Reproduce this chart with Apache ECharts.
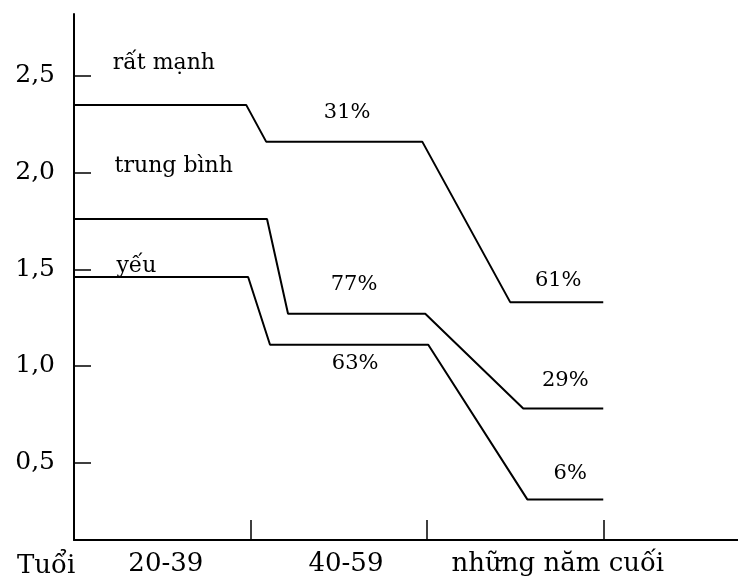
<!DOCTYPE html>
<html>
<head>
<meta charset="utf-8">
<script src="https://cdn.jsdelivr.net/npm/echarts@6/dist/echarts.min.js"></script>
<style>
html,body{margin:0;padding:0;background:#fff;}
#chart{width:738px;height:583px;}
</style>
</head>
<body>
<div id="chart"></div>
<script>
// ---- data ----
var ageGroups = ['20-39', '40-59', 'những năm cuối'];
var ageLabelAt = [0.52, 1.54, 2.74];
var ageTicks = [1, 2, 3];
var yTicks = [0.5, 1.0, 1.5, 2.0, 2.5];

var strongX = [0, 0.975, 1.088, 1.972, 2.470, 2.997];
var strongY = [2.35, 2.35, 2.16, 2.16, 1.33, 1.33];
var mediumX = [0, 1.093, 1.212, 1.989, 2.544, 2.997];
var mediumY = [1.76, 1.76, 1.27, 1.27, 0.78, 0.78];
var weakX = [0, 0.986, 1.110, 2.006, 2.567, 2.997];
var weakY = [1.46, 1.46, 1.11, 1.11, 0.31, 0.31];

var levelNames = ['rất mạnh', 'trung bình', 'yếu'];
var levelNameX = [0.22, 0.23, 0.24];
var levelNameY = [2.566, 2.034, 1.517];

var pctTexts = ['31%', '77%', '63%', '61%', '29%', '6%'];
var pctX = [1.547, 1.586, 1.592, 2.742, 2.782, 2.810];
var pctY = [2.308, 1.419, 1.010, 1.444, 0.927, 0.446];

// ---- chart ----
function zip(xs, ys) { return xs.map(function (x, i) { return [x, ys[i]]; }); }
var FONT = 'DejaVu Serif';
var lineStyle = { color: '#000', width: 2 };

function lineSeries(xs, ys) {
  return {
    type: 'line', data: zip(xs, ys), showSymbol: false, symbol: 'none',
    lineStyle: lineStyle, silent: true, animation: false
  };
}

function textSeries(names, xs, ys, position, size) {
  return {
    type: 'scatter', symbolSize: 0, silent: true, animation: false,
    itemStyle: { opacity: 1, color: '#000' },
    data: names.map(function (t, i) { return { value: [xs[i], ys[i]], name: t }; }),
    label: {
      show: true, position: position, distance: 0, opacity: 1,
      formatter: function (p) { return p.name; },
      color: '#000', fontFamily: FONT, fontSize: size
    }
  };
}

var chart = echarts.init(document.getElementById('chart'), null, { renderer: 'canvas' });
chart.setOption({
  backgroundColor: '#fff',
  animation: false,
  grid: { left: 74, right: 0, top: 14, bottom: 43, containLabel: false },
  xAxis: {
    type: 'value', min: 0, max: 3.76,
    splitLine: { show: false },
    axisLine: { show: true, lineStyle: { color: '#000', width: 2 } },
    axisTick: { show: true, inside: true, length: 20, customValues: ageTicks, lineStyle: { color: '#000', width: 1.5 } },
    axisLabel: {
      show: true, customValues: ageLabelAt, margin: 11,
      color: '#000', fontFamily: FONT, fontSize: 26,
      formatter: function (v) {
        for (var i = 0; i < ageLabelAt.length; i++) if (Math.abs(ageLabelAt[i] - v) < 1e-6) return ageGroups[i];
        return '';
      }
    }
  },
  yAxis: {
    type: 'value', min: 0.1, max: 2.82,
    splitLine: { show: false },
    axisLine: { show: true, lineStyle: { color: '#000', width: 2 } },
    axisTick: { show: true, inside: true, length: 17, customValues: yTicks, lineStyle: { color: '#000', width: 1.5 } },
    axisLabel: {
      show: true, customValues: yTicks, margin: 19,
      color: '#000', fontFamily: FONT, fontSize: 25,
      formatter: function (v) { return v.toFixed(1).replace('.', ','); }
    }
  },
  graphic: [{
    type: 'text', left: 17, top: 553,
    style: { text: 'Tuổi', fontFamily: FONT, fontSize: 26, fill: '#000' }
  }],
  series: [
    lineSeries(strongX, strongY),
    lineSeries(mediumX, mediumY),
    lineSeries(weakX, weakY),
    textSeries(levelNames, levelNameX, levelNameY, 'right', 22),
    textSeries(pctTexts, pctX, pctY, 'inside', 21)
  ]
});
</script>
</body>
</html>
